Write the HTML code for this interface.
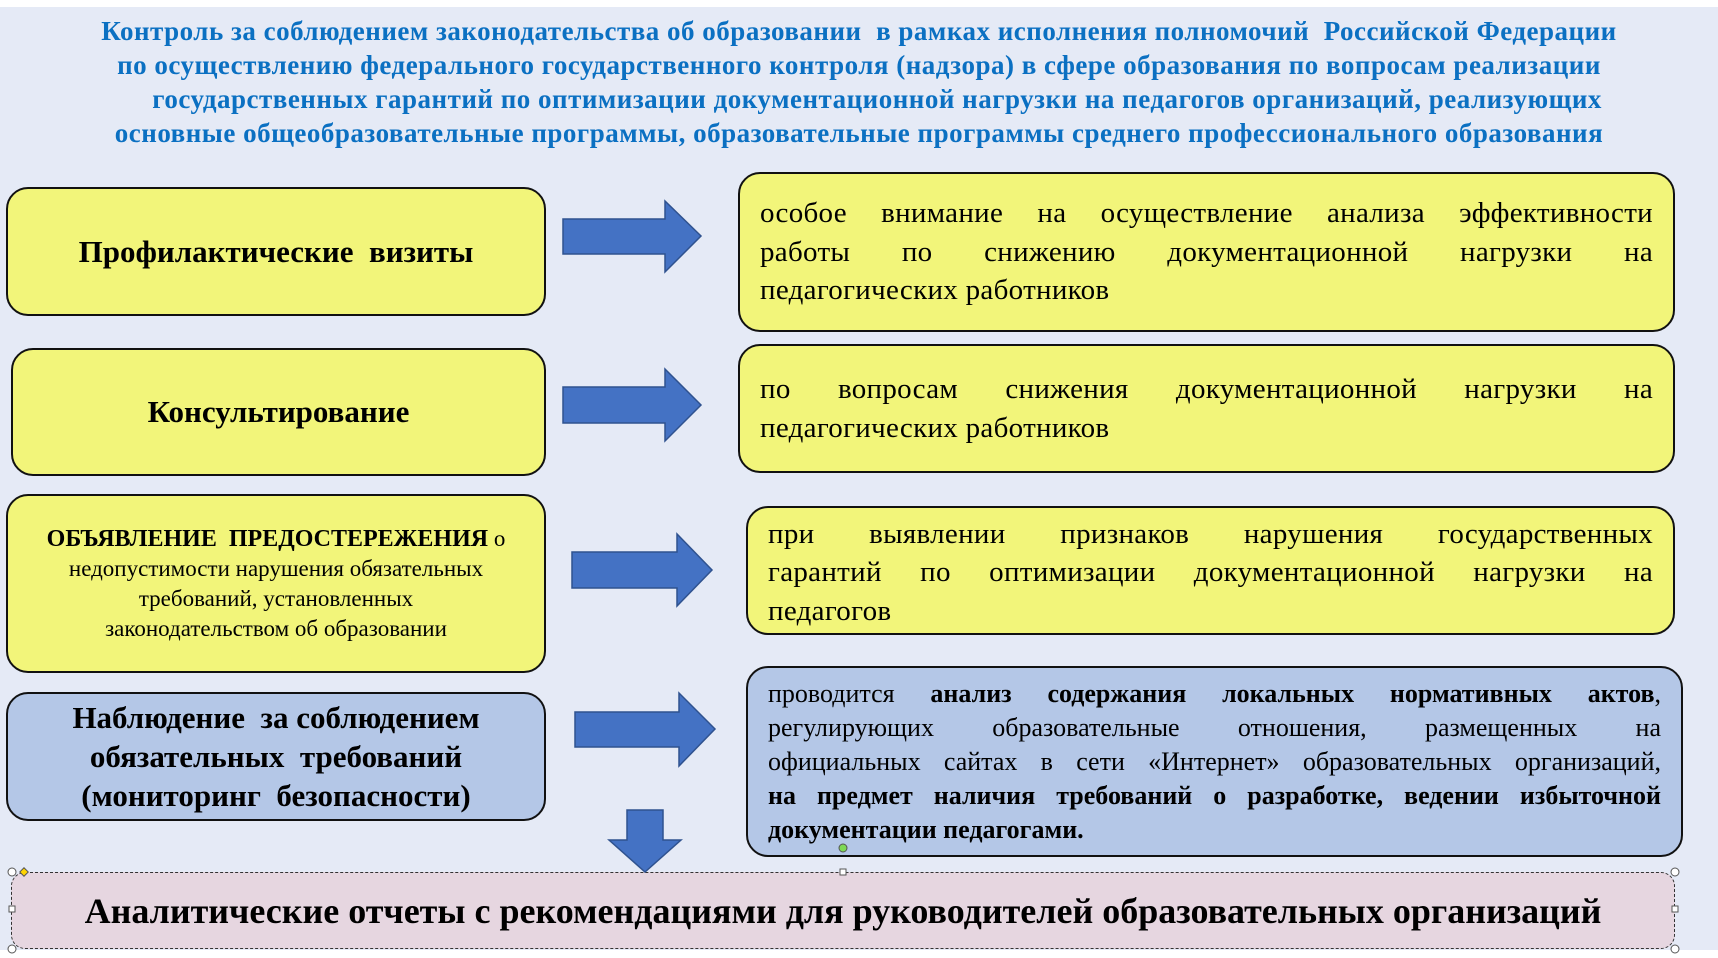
<!DOCTYPE html>
<html><head><meta charset="utf-8"><style>
body{margin:0;width:1718px;height:958px;background:#fff;position:relative;overflow:hidden;font-family:"Liberation Serif",serif}
.bg{position:absolute;left:0;top:7px;width:1718px;height:943px;background:#e5eaf6}
.title{position:absolute;left:0px;top:14px;width:1718px;text-align:center;color:#0b70c2;font-weight:bold;font-size:27px;letter-spacing:0.5px;line-height:34px;white-space:nowrap}
.box{position:absolute;box-sizing:border-box;border:2.5px solid #111;border-radius:22px;background:#f2f57a;display:flex;align-items:center;justify-content:center;text-align:center;color:#000}
.blue{background:#b4c7e7}
.rt{justify-content:flex-start;text-align:left;font-size:29px;line-height:38.5px;padding:0 20px;letter-spacing:0.3px;white-space:nowrap}
.rt>div{width:100%}
.j{text-align:justify;text-align-last:justify}
svg{position:absolute;left:0;top:0}
</style></head><body>
<div class="bg"></div>
<div class="title">Контроль за соблюдением законодательства об образовании&nbsp; в рамках исполнения полномочий&nbsp; Российской Федерации<br>по осуществлению федерального государственного контроля (надзора) в сфере образования по вопросам реализации<br>&nbsp;&nbsp;&nbsp;&nbsp;&nbsp;государственных гарантий по оптимизации документационной нагрузки на педагогов организаций, реализующих<br>основные общеобразовательные программы, образовательные программы среднего профессионального образования</div>

<div class="box" style="left:6px;top:187px;width:540px;height:129px;font-weight:bold;font-size:31px">Профилактические&nbsp; визиты</div>
<div class="box" style="left:11px;top:348px;width:535px;height:128px;font-weight:bold;font-size:31px">Консультирование</div>
<div class="box" style="left:6px;top:494px;width:540px;height:179px;font-size:23px;line-height:30px;padding:0 8px;white-space:nowrap"><div><b style="font-size:24px">ОБЪЯВЛЕНИЕ&nbsp; ПРЕДОСТЕРЕЖЕНИЯ</b> о<br>недопустимости нарушения обязательных<br>требований, установленных<br>законодательством об образовании</div></div>
<div class="box blue" style="left:6px;top:692px;width:540px;height:129px;font-weight:bold;font-size:31px;line-height:39px;padding:0 20px">Наблюдение&nbsp; за соблюдением обязательных&nbsp; требований (мониторинг&nbsp; безопасности)</div>

<div class="box rt" style="left:738px;top:172px;width:937px;height:160px"><div><div class="j">особое внимание на осуществление анализа эффективности</div><div class="j">работы по снижению документационной нагрузки на</div><div>педагогических работников</div></div></div>
<div class="box rt" style="left:738px;top:344px;width:937px;height:129px"><div><div class="j">по вопросам снижения документационной нагрузки на</div><div>педагогических работников</div></div></div>
<div class="box rt" style="left:746px;top:506px;width:929px;height:129px;padding-top:4px"><div><div class="j">при выявлении признаков нарушения государственных</div><div class="j">гарантий по оптимизации документационной нагрузки на</div><div>педагогов</div></div></div>
<div class="box rt blue" style="left:746px;top:666px;width:937px;height:191px;font-size:26px;line-height:34px;letter-spacing:0"><div><div class="j">проводится <b>анализ содержания локальных нормативных актов</b>,</div><div class="j">регулирующих образовательные отношения, размещенных на</div><div class="j">официальных сайтах в сети «Интернет» образовательных организаций,</div><div class="j"><b>на предмет наличия требований о разработке, ведении избыточной</b></div><div><b>документации педагогами.</b></div></div></div>

<div class="box" style="left:11px;top:872px;width:1664px;height:77px;background:#e6d6e0;border:1.5px dashed #333;border-radius:14px;font-weight:bold;font-size:36px;white-space:nowrap">Аналитические отчеты с рекомендациями для руководителей образовательных организаций</div>

<svg width="1718" height="958">
<g fill="#4472c4" stroke="#2f528f" stroke-width="1.5">
<polygon points="563,219 665,219 665,201 701,236 665,272 665,254 563,254"/>
<polygon points="563,387 665,387 665,369 701,405 665,441 665,423 563,423"/>
<polygon points="572,552 677,552 677,534 712,570 677,606 677,588 572,588"/>
<polygon points="575,712 679,712 679,693 715,729 679,766 679,747 575,747"/>
<polygon points="627,810 663,810 663,840 681,840 645,872 609,840 627,840"/>
</g>
<g fill="#fff" stroke="#555" stroke-width="1">
<circle cx="12" cy="872" r="4"/><circle cx="1675" cy="872" r="4"/><circle cx="12" cy="949" r="4"/><circle cx="1675" cy="949" r="4"/>
<rect x="1672" y="906" width="6" height="6"/><rect x="840" y="869" width="6" height="6"/><rect x="9" y="906" width="6" height="6"/>
</g>
<circle cx="843" cy="848" r="4" fill="#7ed957" stroke="#555"/>
<rect x="21" y="869" width="6" height="6" fill="#ffd400" stroke="#555" transform="rotate(45 24 872)"/>
</svg>
</body></html>
